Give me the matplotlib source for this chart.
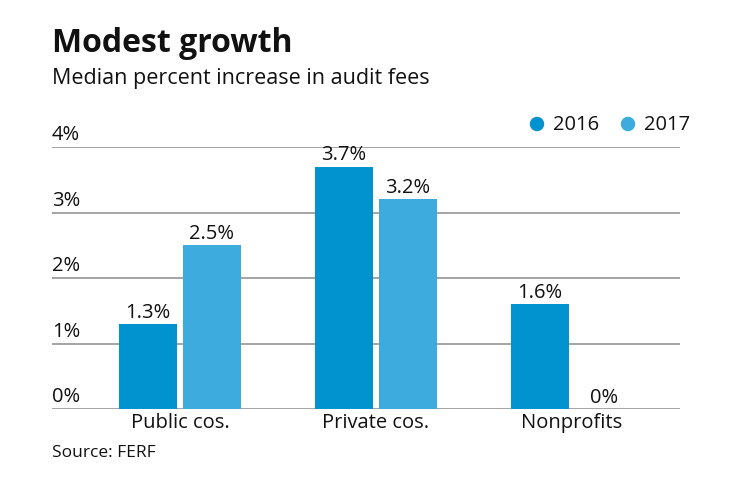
import numpy as np
import matplotlib.pyplot as plt
from matplotlib.patches import Ellipse

categories = ["Public cos.", "Private cos.", "Nonprofits"]
years = ["2016", "2017"]
values_2016 = [1.3, 3.7, 1.6]
values_2017 = [2.5, 3.2, 0.0]
yticks = [0, 1, 2, 3, 4]

c2016 = "#0093d0"
c2017 = "#3dabdd"
font = "Open Sans"
fs = 14.5

W, H = 740, 482
fig = plt.figure(figsize=(W / 100, H / 100), dpi=100)
ax = fig.add_axes([52 / W, 1 - 409 / H, (680 - 52) / W, (409 - 147) / H])

x = np.arange(len(categories))
bw = 58 / 196
off = 32 / 196
b1 = ax.bar(x - off, values_2016, bw, color=c2016, zorder=3)
b2 = ax.bar(x + off, values_2017, bw, color=c2017, zorder=3)

for bars, vals in ((b1, values_2016), (b2, values_2017)):
    for rect, v in zip(bars, vals):
        ax.text(rect.get_x() + rect.get_width() / 2, v + 0.02, f"{v:g}%",
                ha="center", va="bottom", fontsize=fs, family=font, color="#111")

ax.set_xlim(-0.653, 2.551)
ax.set_ylim(0, 4)
for t in yticks:
    ax.axhline(t, color="#8c8c8c", lw=1.1, zorder=1)
    ax.text(-0.653, t + 0.03, f"{t}%", ha="left", va="bottom",
            fontsize=fs, family=font, color="#111")

ax.set_xticks(x)
ax.set_xticklabels(categories, fontsize=fs, family=font, color="#111")
ax.tick_params(axis="x", length=0, pad=3)
ax.set_yticks([])
for s in ax.spines.values():
    s.set_visible(False)

fig.text(52 / W, 1 - 52 / H, "Modest growth", fontsize=23, fontweight="bold",
         family=font, color="#111", va="baseline")
fig.text(52 / W, 1 - 84 / H, "Median percent increase in audit fees",
         fontsize=15.5, family=font, color="#111", va="baseline")
fig.text(52 / W, 1 - 457 / H, "Source: FERF", fontsize=12.5, family=font,
         color="#111", va="baseline")

# legend
for xc, xt, col, lab in ((537, 553, c2016, years[0]), (628, 644, c2017, years[1])):
    fig.add_artist(Ellipse((xc / W, 1 - 124 / H), 13 / W, 13 / H, color=col,
                           transform=fig.transFigure))
    fig.text(xt / W, 1 - 125 / H, lab, fontsize=fs, family=font,
             color="#111", va="center")

fig.savefig("out.png", dpi=100)
